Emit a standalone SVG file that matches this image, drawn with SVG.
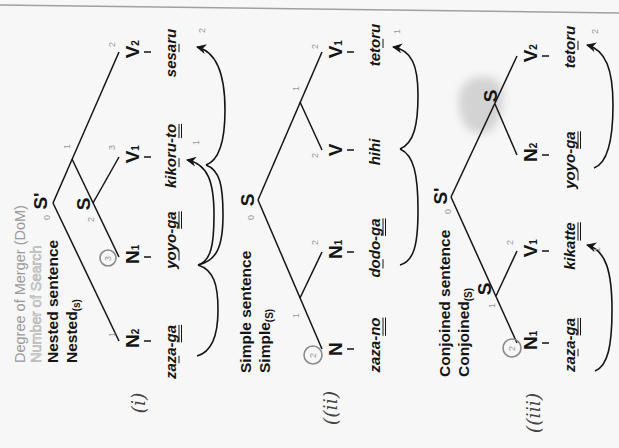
<svg xmlns="http://www.w3.org/2000/svg" width="619" height="448" viewBox="0 0 619 448">
<defs>
<style>
.bg{fill:#f7f7f7}
.ln{stroke:#151515;stroke-width:1.5;fill:none}
.arc{stroke:#151515;stroke-width:1.6;fill:none}
.tick{stroke:#151515;stroke-width:1.5}
.ul{stroke:#151515;stroke-width:1}
.pen{stroke:#8a8a8a;stroke-width:1.6;fill:none}
.title{font-family:'Liberation Sans',Arial,sans-serif;font-size:15.5px;font-weight:bold;fill:#151515}
.dom{font-family:'Liberation Sans',Arial,sans-serif;font-size:14.5px;fill:#9a9a9a}
.nos{font-family:'Liberation Sans',Arial,sans-serif;font-size:14.5px;fill:#e2e2e2;stroke:#a8a8a8;stroke-width:0.5}
.lab{font-family:'Liberation Sans',Arial,sans-serif;font-size:19px;font-weight:bold;fill:#151515}
.sub{font-size:10px}
.ssub{font-size:10px}
.word{font-family:'Liberation Sans',Arial,sans-serif;font-size:15px;font-weight:bold;font-style:italic;fill:#151515}
.num{font-family:'Liberation Sans',Arial,sans-serif;font-size:9px;fill:#999}
.hand{font-family:'DejaVu Serif',serif;font-style:italic;font-size:19px;fill:#444}
</style>
<marker id="ah" viewBox="0 0 10 10" refX="9" refY="5" markerWidth="10" markerHeight="10" orient="auto" markerUnits="userSpaceOnUse">
<path d="M0,0 L10,5 L0,10 L3,5 Z" fill="#151515"/>
</marker>
<filter id="blur" x="-30%" y="-30%" width="160%" height="160%"><feGaussianBlur stdDeviation="4"/></filter>
</defs>
<rect class="bg" x="0" y="0" width="619" height="448"/>
<path d="M0,5 L619,13" stroke="#a0a0a0" stroke-width="1.5" fill="none"/>
<path d="M460,92 C463,78 484,72 497,80 C506,87 504,106 499,118 C495,130 484,137 473,132 C462,127 456,108 460,92 Z" fill="#a8a8a8" opacity="0.45" filter="url(#blur)"/>

<g id="connectors">
<path class="ln" d="M53,203 L119,341"/>
<path class="ln" d="M53,203 L119,52"/>
<path class="ln" d="M72,159 L119,257"/>
<path class="ln" d="M93,203 L119,157"/>
<path class="ln" d="M258,200 L322,349"/>
<path class="ln" d="M258,200 L322,52"/>
<path class="ln" d="M300,298 L322,252"/>
<path class="ln" d="M300,102 L322,150"/>
<path class="ln" d="M451,197 L517,343"/>
<path class="ln" d="M451,197 L517,56"/>
<path class="ln" d="M496,296 L517,251"/>
<path class="ln" d="M495,104 L517,155"/>
<path class="tick" d="M144,341 H151 M144,257 H151 M144,157 H151 M144,52 H151"/>
<path class="tick" d="M347,349 H354 M347,252 H354 M347,150 H354 M347,52 H354"/>
<path class="tick" d="M542,343 H549 M542,251 H549 M542,155 H549 M542,56 H549"/>
<path class="arc" d="M197,356 C212,352 218,335 218,310 C218,285 214,270 198,265"/>
<path class="arc" marker-end="url(#ah)" d="M198,265 C211,261 214,245 214,215 C214,182 208,164 187,160"/>
<path class="arc" d="M198,265 C216,261 223,248 223,215 C223,186 220,170 206,165"/>
<path class="arc" marker-end="url(#ah)" d="M206,165 C220,160 225,140 225,110 C225,76 218,52 197,47"/>
<path class="arc" d="M400,265 C414,261 418,245 418,210 C418,175 414,155 400,149"/>
<path class="arc" marker-end="url(#ah)" d="M400,149 C414,143 418,125 418,95 C418,66 412,50 393,47"/>
<path class="arc" marker-end="url(#ah)" d="M595,371 C608,366 612,345 612,310 C612,272 606,250 587,245"/>
<path class="arc" marker-end="url(#ah)" d="M594,168 C608,163 613,140 613,105 C613,70 606,50 587,45"/>
<circle class="pen" cx="108" cy="258" r="8"/>
<circle class="pen" cx="313" cy="355" r="9"/>
<circle class="pen" cx="512" cy="348" r="9"/>
</g>

<g transform="translate(0,448) rotate(-90)">
<g id="titles">
<text class="dom" x="85" y="25">Degree of Merger (DoM)</text>
<text class="nos" x="85" y="41">Number of Search</text>
<text class="title" x="85" y="58">Nested sentence</text>
<text class="title" x="85" y="77">Nested<tspan class="ssub" dy="3">(s)</tspan></text>
<text class="title" x="75" y="251">Simple sentence</text>
<text class="title" x="75" y="270">Simple<tspan class="ssub" dy="3">(S)</tspan></text>
<text class="title" x="71" y="450">Conjoined sentence</text>
<text class="title" x="71" y="469">Conjoined<tspan class="ssub" dy="3">(S)</tspan></text>
</g>
<g id="hand-labels">
<text class="hand" x="45" y="145" text-anchor="middle">(i)</text>
<text class="hand" x="40" y="337" text-anchor="middle">((ii)</text>
<text class="hand" x="35" y="540" text-anchor="middle">((iii)</text>
</g>

<g id="i-Sp"><text class="lab" x="247" y="47" text-anchor="middle">S'</text><text class="num" x="228" y="50">0</text></g>
<g id="i-n1"><text class="num" x="299" y="70">1</text></g>
<g id="i-S"><text class="lab" x="244" y="90" text-anchor="middle">S</text><text class="num" x="226" y="94">2</text></g>
<g id="i-N2"><text class="lab" x="100.1" y="139">N<tspan class="sub">2</tspan></text><text class="num" x="111" y="115">1</text></g>
<g id="i-N1"><text class="lab" x="184.1" y="139">N<tspan class="sub">1</tspan></text><text class="num" x="187" y="111">3</text></g>
<g id="i-V1"><text class="lab" x="284.7" y="139">V<tspan class="sub">1</tspan></text><text class="num" x="298" y="115">3</text></g>
<g id="i-V2"><text class="lab" x="389.7" y="139">V<tspan class="sub">2</tspan></text><text class="num" x="401" y="115">2</text></g>
<g id="i-w1"><text class="word" x="68.9" y="176">zaza-ga</text><path class="ul" d="M84.7,179 H92.2 M105.6,179 H123.1 M105.6,181.5 H123.1"/></g>
<g id="i-w2"><text class="word" x="179.2" y="176">yoyo-ga</text><path class="ul" d="M187.5,179 H196.7 M219.2,179 H236.7 M219.2,181.5 H236.7"/></g>
<g id="i-w3"><text class="word" x="259.9" y="176">kikoru-to</text><path class="ul" d="M280.8,179 H289.9 M309.9,179 H324.1 M309.9,181.5 H324.1"/><text class="num" x="303" y="199">1</text></g>
<g id="i-w4"><text class="word" x="370.8" y="176">sesaru</text><path class="ul" d="M395.8,179 H404.2"/><text class="num" x="415" y="205">2</text></g>

<g id="ii-S"><text class="lab" x="248" y="254" text-anchor="middle">S</text><text class="num" x="228" y="254">0</text></g>
<g id="ii-nl"><text class="num" x="130" y="299">1</text></g>
<g id="ii-nr"><text class="num" x="357" y="299">1</text></g>
<g id="ii-N"><text class="lab" x="92.1" y="342">N</text><text class="num" x="90" y="316">2</text></g>
<g id="ii-N1"><text class="lab" x="189.1" y="342">N<tspan class="sub">1</tspan></text><text class="num" x="203" y="318">2</text></g>
<g id="ii-V"><text class="lab" x="291.7" y="342">V</text><text class="num" x="290" y="318">2</text></g>
<g id="ii-V1"><text class="lab" x="389.7" y="342">V<tspan class="sub">1</tspan></text><text class="num" x="399" y="318">2</text></g>
<g id="ii-w1"><text class="word" x="75.5" y="380">zaza-no</text><path class="ul" d="M112.2,383 H130.5 M112.2,385.5 H130.5"/></g>
<g id="ii-w2"><text class="word" x="170.4" y="380">dodo-ga</text><path class="ul" d="M179.6,383 H188.7 M212.1,383 H229.6 M212.1,385.5 H229.6"/></g>
<g id="ii-w3"><text class="word" x="282.7" y="380">hihi</text></g>
<g id="ii-w4"><text class="word" x="381.7" y="380">tetoru</text><path class="ul" d="M400,383 H409.2"/><text class="num" x="414" y="400">1</text></g>

<g id="iii-Sp"><text class="lab" x="252" y="447" text-anchor="middle">S'</text><text class="num" x="234" y="451">0</text></g>
<g id="iii-Sl"><text class="lab" x="159" y="491" text-anchor="middle">S</text><text class="num" x="140" y="495">1</text></g>
<g id="iii-Sr"><text class="lab" x="352" y="497" text-anchor="middle">S</text></g>
<g id="iii-N1"><text class="lab" x="98.1" y="537">N<tspan class="sub">1</tspan></text><text class="num" x="97" y="515">2</text></g>
<g id="iii-V1"><text class="lab" x="190.7" y="537">V<tspan class="sub">1</tspan></text><text class="num" x="203" y="513">2</text></g>
<g id="iii-N2"><text class="lab" x="286.1" y="537">N<tspan class="sub">2</tspan></text></g>
<g id="iii-V2"><text class="lab" x="385.7" y="537">V<tspan class="sub">2</tspan></text></g>
<g id="iii-w1"><text class="word" x="75.9" y="575">zaza-ga</text><path class="ul" d="M91.7,578 H99.2 M112.6,578 H130.1 M112.6,580.5 H130.1"/></g>
<g id="iii-w2"><text class="word" x="178.2" y="575">kikatte</text><path class="ul" d="M207.4,578 H225.7 M207.4,580.5 H225.7"/><text class="num" x="196" y="600">1</text></g>
<g id="iii-w3"><text class="word" x="259.2" y="575">yoyo-ga</text><path class="ul" d="M267.5,578 H276.7 M299.2,578 H316.7 M299.2,580.5 H316.7"/></g>
<g id="iii-w4"><text class="word" x="379.7" y="575">tetoru</text><path class="ul" d="M398,578 H407.2"/><text class="num" x="414" y="598">2</text></g>
</g>
</svg>
